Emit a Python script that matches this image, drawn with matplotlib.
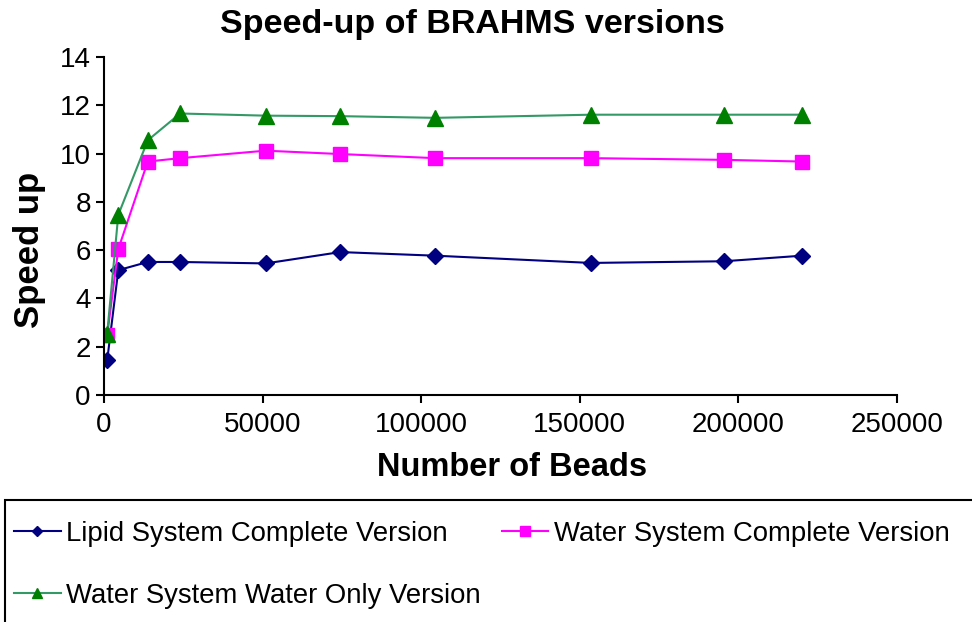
import matplotlib
matplotlib.use("Agg")
import matplotlib.pyplot as plt
from matplotlib.patches import Rectangle

beads = [1000, 4500, 13800, 24000, 51000, 74500, 104500, 153500, 195500, 220000]
lipid_complete = [1.43, 5.17, 5.51, 5.51, 5.45, 5.92, 5.77, 5.47, 5.54, 5.77]
water_complete = [2.47, 6.04, 9.67, 9.81, 10.12, 9.98, 9.81, 9.81, 9.74, 9.67]
water_only = [2.54, 7.46, 10.55, 11.66, 11.57, 11.55, 11.48, 11.61, 11.61, 11.61]
series_labels = ["Lipid System Complete Version", "Water System Complete Version",
                 "Water System Water Only Version"]
x_ticks = [0, 50000, 100000, 150000, 200000, 250000]
y_ticks = [0, 2, 4, 6, 8, 10, 12, 14]

plt.rcParams['font.family'] = ['Liberation Sans', 'DejaVu Sans']

fig = plt.figure(figsize=(9.72, 6.22), dpi=100)
ax = fig.add_axes([104/972, 1-395/622, (897-104)/972, (395-57)/622])

l1, = ax.plot(beads, lipid_complete, color='#000080', lw=1.5, marker='D', ms=8,
              mfc='#000080', mec='#000080', label=series_labels[0])
l2, = ax.plot(beads, water_complete, color='#FF00FF', lw=1.5, marker='s', ms=10,
              mfc='#FF00FF', mec='#FF00FF', label=series_labels[1])
l3, = ax.plot(beads, water_only, color='#339966', lw=1.5, marker='^', ms=11,
              mfc='#008000', mec='#008000', label=series_labels[2])

ax.set_xlim(0, 250000)
ax.set_ylim(0, 14)
ax.set_xticks(x_ticks)
ax.set_xticklabels([str(v) for v in x_ticks])
ax.set_yticks(y_ticks)
ax.set_yticklabels([str(v) for v in y_ticks])
ax.tick_params(axis='both', labelsize=20, length=6, width=1.5, direction='out')
ax.tick_params(axis='x', pad=6)
ax.spines['top'].set_visible(False)
ax.spines['right'].set_visible(False)
ax.spines['left'].set_linewidth(1.5)
ax.spines['bottom'].set_linewidth(1.5)

fig.text(472/972, 1-25/622, "Speed-up of BRAHMS versions", ha='center', va='center',
         fontsize=24.5, fontweight='bold')
fig.text(512/972, 1-468/622, "Number of Beads", ha='center', va='center',
         fontsize=23.5, fontweight='bold')
fig.text(30/972, 1-250/622, "Speed up", ha='center', va='center', rotation=90,
         fontsize=25, fontweight='bold')

rect = Rectangle((5/972, -0.05), 1.0, (622-500)/622 + 0.05, transform=fig.transFigure,
                 fill=False, edgecolor='black', lw=1.5)
fig.add_artist(rect)

leg = fig.legend([l1, l3, l2], [series_labels[0], series_labels[2], series_labels[1]],
                 loc='upper left', bbox_to_anchor=(14/972, 1-521/622),
                 ncol=2, frameon=False, fontsize=19.8, handlelength=1.7,
                 handletextpad=0.2, columnspacing=0.75, labelspacing=1.3,
                 borderaxespad=0, borderpad=0, markerscale=0.7)

fig.savefig("out.png", dpi=100)
